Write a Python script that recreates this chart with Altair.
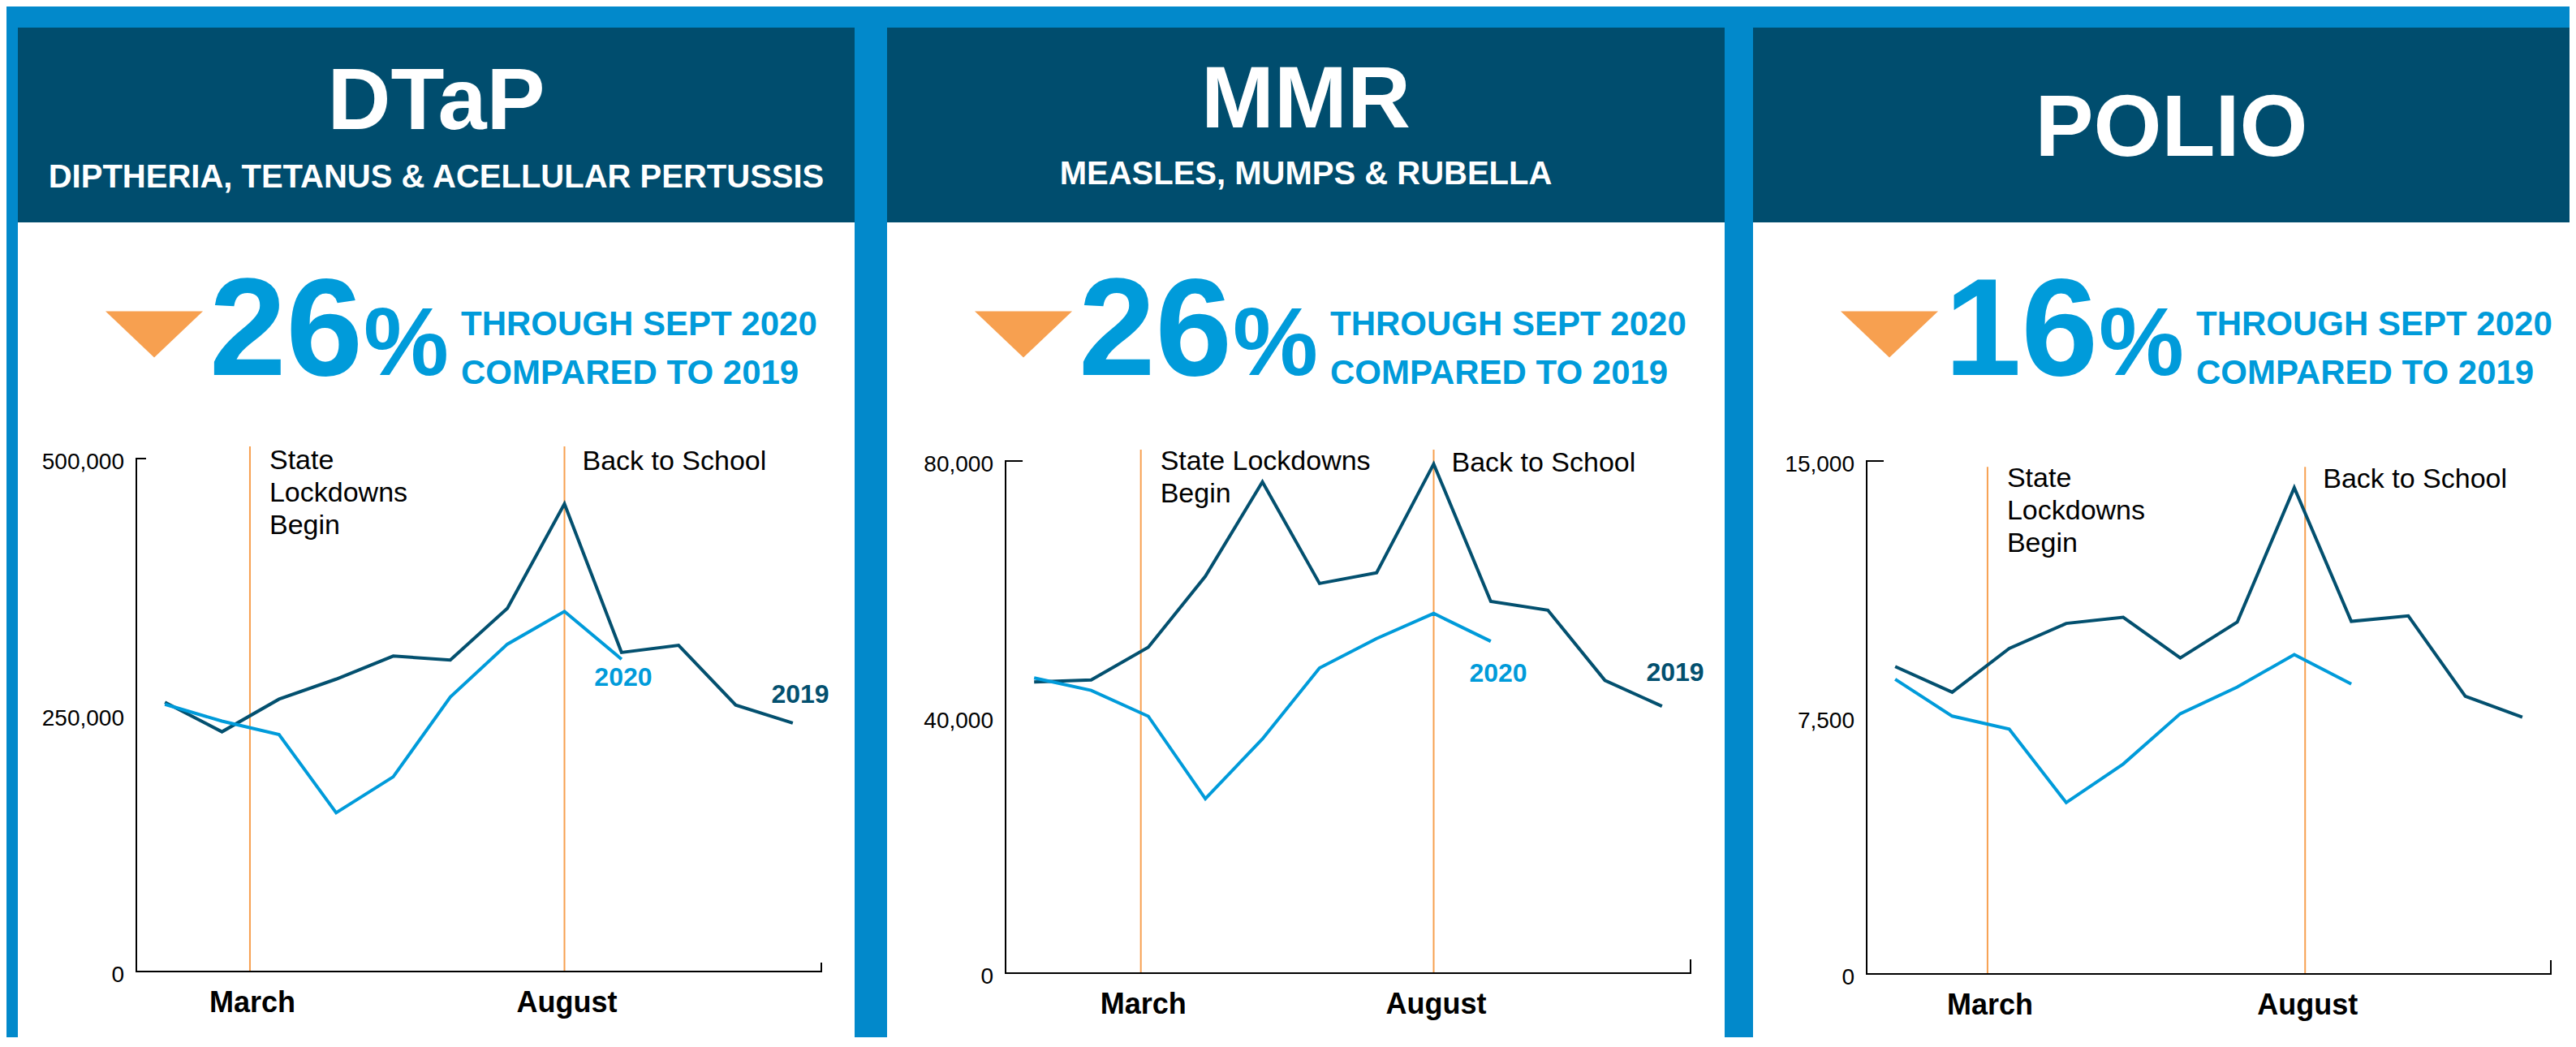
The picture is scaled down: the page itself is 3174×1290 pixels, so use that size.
import altair as alt
import pandas as pd

# ---------------- data ----------------
months = list(range(1, 13))
months_2020 = list(range(1, 10))

dtap_2019 = [262400, 233700, 265500, 285000, 307500, 303600, 354100, 455900, 311000, 318000, 259700, 242200]
dtap_2020 = [260500, 244100, 230900, 154800, 189800, 267500, 319100, 351000, 304400]
mmr_2019 = [45490, 45800, 50900, 61990, 76740, 60870, 62540, 79540, 58070, 56700, 45730, 41690]
mmr_2020 = [46110, 44170, 40130, 27250, 36580, 47670, 52270, 56190, 51840]
polio_2019 = [8990, 8240, 9520, 10250, 10430, 9240, 10290, 14220, 10310, 10470, 8120, 7510]
polio_2020 = [8620, 7540, 7160, 5010, 6140, 7610, 8390, 9340, 8480]

titles = ["DTaP", "MMR", "POLIO"]
subtitles = ["DIPTHERIA, TETANUS & ACELLULAR PERTUSSIS", "MEASLES, MUMPS & RUBELLA", ""]
drops = ["26", "26", "16"]
stat_line1 = "THROUGH SEPT 2020"
stat_line2 = "COMPARED TO 2019"
y_max = [500000, 80000, 15000]
y_tick_values = [[0, 250000, 500000], [0, 40000, 80000], [0, 7500, 15000]]
y_tick_labels = [["0", "250,000", "500,000"], ["0", "40,000", "80,000"], ["0", "7,500", "15,000"]]
x_labels = ["March", "August"]
lockdown_month = [2.49, 2.87, 2.62]
school_month = [8.0, 8.0, 8.19]
event_top = [511900, 81780, 14830]
lockdown_text = ["State\nLockdowns\nBegin", "State Lockdowns\nBegin", "State\nLockdowns\nBegin"]
school_text = "Back to School"
series_names = ["2019", "2020"]
label_2020 = [(9.03, 286400), (9.13, 46780), None]
label_2019 = [(12.13, 269800), (12.23, 46910), None]

# ---------------- styling / layout (reference pixels) ----------------
BLUE = "#0289CB"
NAVY = "#004D6E"
LINE_DARK = "#03506F"
LIGHT = "#009BDA"
ORANGE = "#F7A050"
SANS = "Liberation Sans, Arial, sans-serif"

panel_x = [(22, 1053), (1093, 2125), (2160, 3191)]
plot_x = [(168, 1012), (1239, 2083), (2300, 3143)]
plot_y = [(1197, 565), (1199, 568), (1200, 568)]
view_w = [844, 844, 843]
SPACING = 222
view_left = [168, 168 + 844 + SPACING, 168 + 844 + SPACING + 844 + SPACING]
VIEW_TOP = 565
VIEW_H = 632
top_tick = [0.156, 0.285, 0.285]
right_tick_px = [10, 16, 16]
lock_dy = [13, 11, 32]
school_dy = [14, 13, 33]
title_base = [159, 157, 192]
sub_base = [231, 227, None]
stat_start = [130, 1201, 2268]

one = alt.Data(values=[{}])


def LX(x):
    return x - view_left[0]


def LY(y):
    return y - VIEW_TOP


def val(v):
    return alt.value(v)


deco = []
deco.append(alt.Chart(one).mark_rect(color=BLUE).encode(
    x=val(LX(8)), x2=val(LX(3166)), y=val(LY(8)), y2=val(LY(1278))))
for i, (a, b) in enumerate(panel_x):
    b = min(b, 3166)
    deco.append(alt.Chart(one).mark_rect(color=NAVY).encode(
        x=val(LX(a)), x2=val(LX(b)), y=val(LY(34)), y2=val(LY(274))))
    deco.append(alt.Chart(one).mark_rect(color="white").encode(
        x=val(LX(a)), x2=val(LX(b)), y=val(LY(274)), y2=val(LY(1278))))

for i, (a, b) in enumerate(panel_x):
    cx = (a + b) / 2
    deco.append(alt.Chart(one).mark_text(font=SANS, fontWeight="bold", fontSize=108,
                                         color="white", align="center", baseline="alphabetic").encode(
        x=val(LX(cx)), y=val(LY(title_base[i])), text=alt.value(titles[i])))
    if subtitles[i]:
        deco.append(alt.Chart(one).mark_text(font=SANS, fontWeight="bold", fontSize=40,
                                             color="white", align="center", baseline="alphabetic").encode(
            x=val(LX(cx)), y=val(LY(sub_base[i])), text=alt.value(subtitles[i])))
    start = stat_start[i]
    deco.append(alt.Chart(one).mark_point(shape="M-1,-0.475L1,-0.475L0,0.475Z", size=14400,
                                          filled=True, color=ORANGE, opacity=1, strokeWidth=0).encode(
        x=val(LX(start + 60)), y=val(LY(412))))
    num_left = start + 128
    deco.append(alt.Chart(one).mark_text(font=SANS, fontWeight="bold", fontSize=170,
                                         color=LIGHT, align="left", baseline="alphabetic").encode(
        x=val(LX(num_left)), y=val(LY(462)), text=alt.value(drops[i])))
    pct_left = num_left + 190
    deco.append(alt.Chart(one).mark_text(font=SANS, fontWeight="bold", fontSize=118,
                                         color=LIGHT, align="left", baseline="alphabetic").encode(
        x=val(LX(pct_left)), y=val(LY(462)), text=alt.value("%")))
    txt_left = pct_left + 120
    deco.append(alt.Chart(one).mark_text(font=SANS, fontWeight="bold", fontSize=42,
                                         color=LIGHT, align="left", baseline="alphabetic").encode(
        x=val(LX(txt_left)), y=val(LY(413)), text=alt.value(stat_line1)))
    deco.append(alt.Chart(one).mark_text(font=SANS, fontWeight="bold", fontSize=42,
                                         color=LIGHT, align="left", baseline="alphabetic").encode(
        x=val(LX(txt_left)), y=val(LY(473)), text=alt.value(stat_line2)))

color_scale = alt.Scale(domain=series_names, range=[LINE_DARK, LIGHT])


def panel(i, y19, y20, extra=()):
    px0, px1 = plot_x[i]
    pyb, pyt = plot_y[i]
    ox = view_left[i]
    xs = alt.Scale(domain=[0.5, 12.5], range=[px0 - ox, px1 - ox], nice=False, zero=False)
    ys = alt.Scale(domain=[0, y_max[i]], range=[pyb - VIEW_TOP, pyt - VIEW_TOP], nice=False, zero=False)
    X = lambda f: alt.X(f, scale=xs, axis=None)
    Y = lambda f: alt.Y(f, scale=ys, axis=None)
    df = pd.DataFrame({
        "month": months + months_2020,
        "value": y19 + y20,
        "year": [series_names[0]] * len(months) + [series_names[1]] * len(months_2020),
    })
    lines = alt.Chart(df).mark_line(strokeWidth=4).encode(
        x=X("month:Q"), y=Y("value:Q"),
        color=alt.Color("year:N", scale=color_scale, legend=None),
        order=alt.Order("month:Q"),
    )
    ev = pd.DataFrame({"m": [lockdown_month[i], school_month[i]], "lab": x_labels,
                       "y0": [0, 0], "top": [event_top[i], event_top[i]]})
    ev_rules = alt.Chart(ev).mark_rule(color=ORANGE, strokeWidth=2).encode(
        x=X("m:Q"), y=Y("y0:Q"), y2="top:Q")
    ev_lab = alt.Chart(ev).mark_text(font=SANS, fontWeight="bold", fontSize=36, color="black",
                                     align="center", baseline="alphabetic", dx=3, dy=50).encode(
        x=X("m:Q"), y=Y("y0:Q"), text="lab:N")
    ann = pd.DataFrame({"m": [lockdown_month[i]], "v": [y_max[i]], "t": [lockdown_text[i]]})
    lock_t = alt.Chart(ann).mark_text(
        font=SANS, fontSize=34, color="black", align="left", baseline="alphabetic",
        lineBreak="\n", lineHeight=40, dx=24, dy=lock_dy[i]).encode(
        x=X("m:Q"), y=Y("v:Q"), text="t:N")
    ann2 = pd.DataFrame({"m": [school_month[i]], "v": [y_max[i]], "t": [school_text]})
    school_t = alt.Chart(ann2).mark_text(
        font=SANS, fontSize=34, color="black", align="left", baseline="alphabetic",
        dx=22, dy=school_dy[i]).encode(
        x=X("m:Q"), y=Y("v:Q"), text="t:N")
    ax = pd.DataFrame({
        "x": [0.5, 0.5, 0.5, 12.5],
        "x2": [0.5, 12.5, 0.5 + top_tick[i], 12.5],
        "y": [0, 0, y_max[i], 0],
        "y2": [y_max[i], 0, y_max[i], y_max[i] * right_tick_px[i] / (pyb - pyt)],
    })
    axes = alt.Chart(ax).mark_rule(color="black", strokeWidth=2, strokeCap="square").encode(
        x=X("x:Q"), x2="x2:Q", y=Y("y:Q"), y2="y2:Q")
    yl = pd.DataFrame({"x": [0.5] * 3, "v": y_tick_values[i], "t": y_tick_labels[i]})
    ylabs = alt.Chart(yl).mark_text(font=SANS, fontSize=28, color="black", align="right",
                                    baseline="middle", dx=-15, dy=5).encode(
        x=X("x:Q"), y=Y("v:Q"), text="t:N")
    parts = list(extra) + [ev_rules, axes, lines, ylabs, ev_lab, lock_t, school_t]
    if label_2020[i] is not None:
        sl = pd.DataFrame({
            "m": [label_2020[i][0], label_2019[i][0]],
            "v": [label_2020[i][1], label_2019[i][1]],
            "year": [series_names[1], series_names[0]],
        })
        parts.append(alt.Chart(sl).mark_text(font=SANS, fontWeight="bold", fontSize=32,
                                             align="center", baseline="middle").encode(
            x=X("m:Q"), y=Y("v:Q"), text="year:N",
            color=alt.Color("year:N", scale=color_scale, legend=None)))
    return alt.layer(*parts).properties(width=view_w[i], height=VIEW_H)


p1 = panel(0, dtap_2019, dtap_2020, extra=deco)
p2 = panel(1, mmr_2019, mmr_2020)
p3 = panel(2, polio_2019, polio_2020)

chart = alt.hconcat(p1, p2, p3, spacing=SPACING, bounds="flush").properties(
    background=BLUE, padding=0
).configure_view(stroke=None)

chart.save("out.html", embed_options={"renderer": "svg", "actions": False})
